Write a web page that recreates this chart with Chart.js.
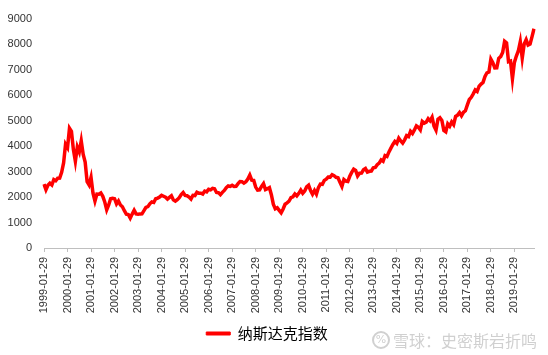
<!DOCTYPE html>
<html>
<head>
<meta charset="utf-8">
<script src="https://cdn.jsdelivr.net/npm/chart.js@4.4.1/dist/chart.umd.min.js"></script>
<style>
  html, body { margin: 0; padding: 0; background: #ffffff; }
  #wrap { position: relative; width: 548px; height: 355px; overflow: hidden; }
  #wm { position: absolute; left: 372px; top: 330px; height: 20px; display: flex; align-items: center;
        font-family: "Noto Sans CJK SC", sans-serif; font-size: 16px; color: #d0d0d0; white-space: nowrap; }
  #wm .logo { box-sizing: border-box; width: 18px; height: 18px; border: 2px solid #d0d0d0; border-radius: 50%;
        margin-right: 3px; font-size: 11px; line-height: 14px; text-align: center; font-family: "DejaVu Sans", sans-serif; }
</style>
</head>
<body>
<div id="wrap">
  <canvas id="c" width="548" height="355"></canvas>
  <div id="wm"><span class="logo">%</span><span>雪球：史密斯岩折鸣</span></div>
</div>
<script>
// ---- data ----
const years = [1999, 2000, 2001, 2002, 2003, 2004, 2005, 2006, 2007, 2008, 2009,
               2010, 2011, 2012, 2013, 2014, 2015, 2016, 2017, 2018, 2019];
const months = ['01', '02', '03', '04', '05', '06', '07', '08', '09', '10', '11', '12'];
const lastMonthOfFinalYear = 11;
const seriesName = '纳斯达克指数';
const yTicks = [0, 1000, 2000, 3000, 4000, 5000, 6000, 7000, 8000, 9000];

const nasdaq = [
  // 1999
  2506, 2288, 2461, 2543, 2471, 2686, 2638, 2739, 2746, 2966, 3336, 4069,
  // 2000
  3940, 4697, 4573, 3861, 3401, 3966, 3767, 4206, 3673, 3370, 2598, 2471,
  // 2001
  2773, 2152, 1840, 2116, 2110, 2161, 2027, 1805, 1499, 1690, 1931, 1950,
  // 2002
  1934, 1731, 1845, 1688, 1616, 1463, 1328, 1315, 1172, 1330, 1479, 1336,
  // 2003
  1321, 1338, 1341, 1464, 1596, 1623, 1735, 1810, 1787, 1932, 1960, 2003,
  // 2004
  2066, 2030, 1994, 1920, 1987, 2048, 1887, 1838, 1897, 1975, 2097, 2175,
  // 2005
  2062, 2052, 1999, 1922, 2068, 2057, 2185, 2152, 2152, 2120, 2233, 2205,
  // 2006
  2306, 2281, 2340, 2323, 2179, 2172, 2091, 2184, 2258, 2367, 2432, 2415,
  // 2007
  2464, 2416, 2422, 2525, 2605, 2603, 2546, 2596, 2702, 2859, 2661, 2652,
  // 2008
  2390, 2271, 2279, 2413, 2523, 2293, 2326, 2368, 2092, 1721, 1536, 1577,
  // 2009
  1476, 1378, 1529, 1717, 1774, 1835, 1979, 2009, 2122, 2045, 2145, 2269,
  // 2010
  2147, 2238, 2398, 2461, 2257, 2109, 2255, 2114, 2369, 2507, 2498, 2653,
  // 2011
  2700, 2782, 2781, 2874, 2835, 2774, 2756, 2579, 2415, 2684, 2620, 2605,
  // 2012
  2814, 2967, 3092, 3046, 2827, 2935, 2940, 3067, 3116, 2977, 3010, 3020,
  // 2013
  3142, 3160, 3268, 3329, 3456, 3403, 3626, 3590, 3771, 3920, 4060, 4177,
  // 2014
  4104, 4308, 4199, 4115, 4243, 4408, 4370, 4580, 4493, 4631, 4792, 4736,
  // 2015
  4635, 4964, 4901, 4941, 5070, 4987, 5128, 4777, 4620, 5054, 5109, 5007,
  // 2016
  4614, 4558, 4870, 4775, 4948, 4843, 5162, 5213, 5312, 5189, 5324, 5383,
  // 2017
  5615, 5825, 5912, 6048, 6199, 6140, 6348, 6429, 6496, 6728, 6874, 6903,
  // 2018
  7411, 7273, 7063, 7066, 7442, 7510, 7672, 8110, 8046, 7306, 7331, 6635,
  // 2019
  7282, 7533, 7729, 8095, 7453, 8006, 8175, 7963, 7999, 8292, 8600
];

// ---- categories built from the small arrays ----
const labels = [];
years.forEach(function (y, yi) {
  const nMonths = (yi === years.length - 1) ? lastMonthOfFinalYear : 12;
  for (let m = 0; m < nMonths; m++) labels.push(y + '-' + months[m] + '-29');
});

const ctx = document.getElementById('c').getContext('2d');
new Chart(ctx, {
  type: 'line',
  data: {
    labels: labels,
    datasets: [{
      label: seriesName,
      data: nasdaq,
      borderColor: '#ff0000',
      backgroundColor: '#ff0000',
      borderWidth: 3.5,
      pointRadius: 0,
      tension: 0,
      fill: false
    }]
  },
  options: {
    responsive: false,
    animation: false,
    layout: { padding: { top: 5.4, right: 14, bottom: 4, left: 0 } },
    plugins: {
      tooltip: { enabled: false },
      legend: {
        position: 'bottom',
        labels: {
          boxWidth: 24,
          boxHeight: 3,
          padding: 10,
          color: '#000000',
          font: { family: '"Noto Sans CJK SC", sans-serif', size: 15 },
          generateLabels: function (chart) {
            return chart.data.datasets.map(function (ds, i) {
              return { text: ds.label, fillStyle: '#ff0000', strokeStyle: '#ff0000', lineWidth: 1, datasetIndex: i, fontColor: '#000000' };
            });
          }
        }
      }
    },
    scales: {
      x: {
        type: 'category',
        offset: false,
        grid: { display: true, drawOnChartArea: false, drawTicks: true, tickLength: 4, color: '#bfbfbf' },
        border: { display: true, color: '#bfbfbf', width: 1 },
        ticks: {
          autoSkip: false,
          maxRotation: 90,
          minRotation: 90,
          padding: 5,
          color: '#333333',
          font: { family: '"Liberation Sans", Arial, sans-serif', size: 11 },
          callback: function (v, i) {
            const l = labels[i];
            return l.slice(5, 7) === '01' ? l : null;
          }
        },
        afterFit: function (scale) { scale.height = 68; }
      },
      y: {
        min: 0,
        max: 9000,
        grid: { display: false, drawTicks: false },
        border: { display: false },
        afterBuildTicks: function (scale) { scale.ticks = yTicks.map(function (v) { return { value: v }; }); },
        ticks: {
          padding: 12,
          color: '#333333',
          font: { family: '"Liberation Sans", Arial, sans-serif', size: 11 },
          callback: function (v) { return String(v); }
        },
        afterFit: function (scale) { scale.width = 44; }
      }
    }
  }
});
</script>
</body>
</html>
